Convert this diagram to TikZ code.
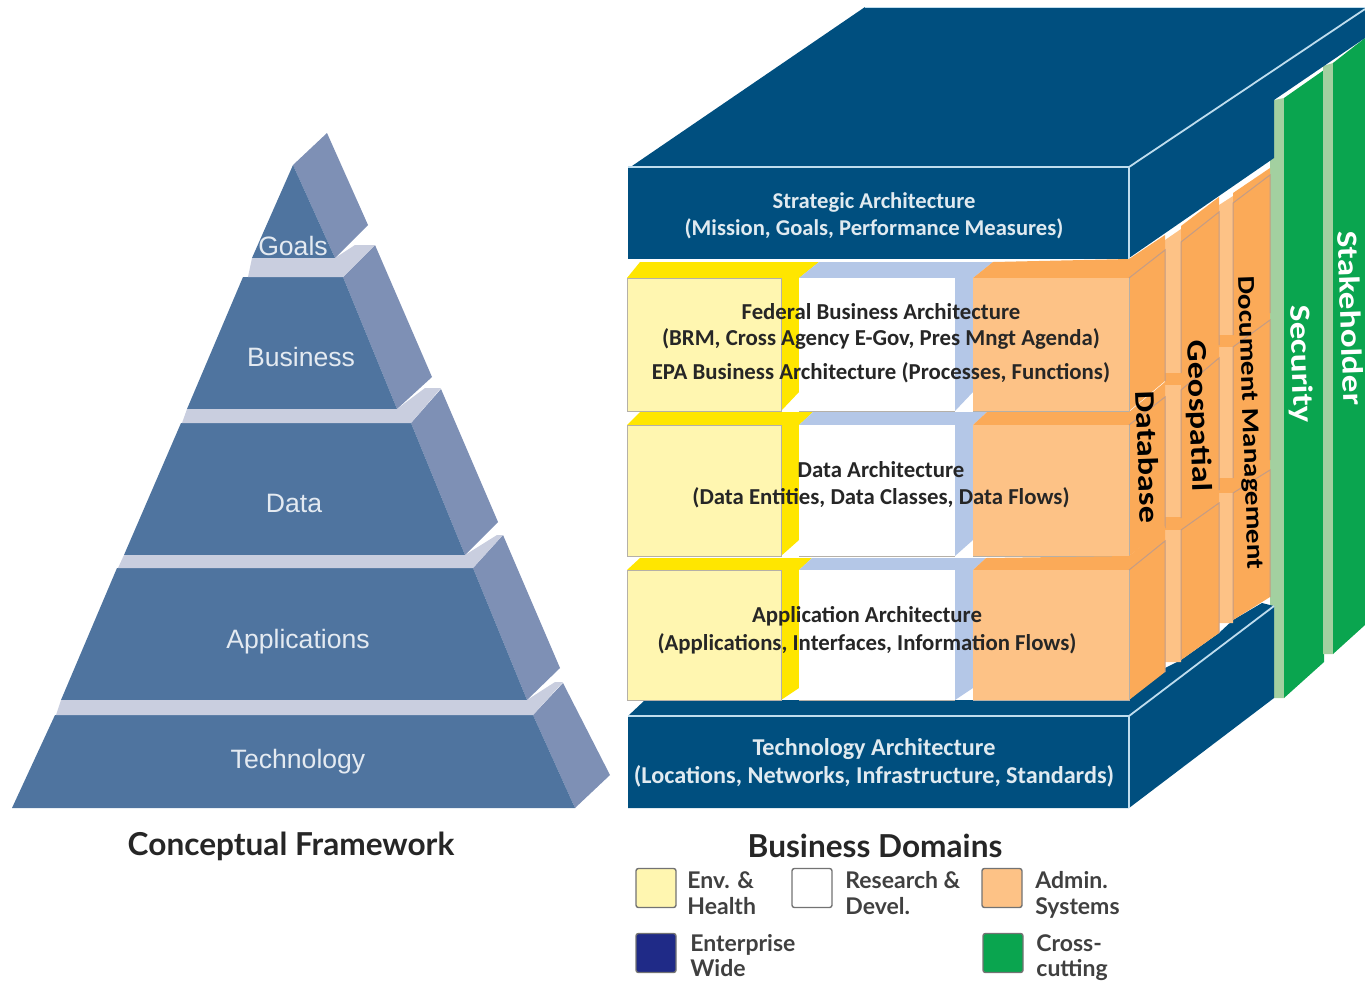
\documentclass[tikz,border=0pt]{standalone}
\usepackage{fontspec}
\setmainfont{Carlito}
\newfontfamily\pyrfont{Liberation Sans}
\newfontfamily\headfont{Lato}
\newfontfamily\longfont[FakeStretch=1.2]{Carlito}
\usepackage{tikz}

\definecolor{pyrfront}{HTML}{4F749F}
\definecolor{pyrside}{HTML}{7E90B5}
\definecolor{pyrshelf}{HTML}{C9CEDF}
\definecolor{navy}{HTML}{004F7F}
\definecolor{edgeline}{HTML}{BFDDEE}
\definecolor{yelfront}{HTML}{FFF6B0}
\definecolor{yelside}{HTML}{FFE600}
\definecolor{lavside}{HTML}{B4C7E7}
\definecolor{orgfront}{HTML}{FDC286}
\definecolor{orgside}{HTML}{FBAA58}
\definecolor{orgline}{HTML}{C39C86}
\definecolor{palegreen}{HTML}{A3D0A0}
\definecolor{crossgreen}{HTML}{0AA54F}
\definecolor{legendnavy}{HTML}{1F2A87}
\definecolor{boxline}{HTML}{B5B0A8}

\begin{document}
\begin{tikzpicture}
  [x=0.5pt,y=-0.5pt,
   pyrlabel/.style={text=white!85!pyrfront,font=\pyrfont\fontsize{13.3}{15}\selectfont},
   whitelabel/.style={text=white!88!navy,font=\bfseries\fontsize{11.3}{13}\selectfont},
   techlabel/.style={text=white!88!navy,font=\bfseries\fontsize{12.1}{14}\selectfont},
   blacklabel/.style={text=black!85,font=\bfseries\fontsize{11.4}{13}\selectfont},
   columnlabel/.style={text=black,rotate=-88,inner sep=0pt,font=\longfont\bfseries\fontsize{14.2}{16}\selectfont},
   greenlabel/.style={text=white,rotate=-88,inner sep=0pt,font=\longfont\bfseries\fontsize{14.6}{16}\selectfont},
   headlabel/.style={text=black!85,font=\headfont\bfseries\fontsize{15.8}{18}\selectfont},
   legendlabel/.style={anchor=base west,inner sep=0pt,text=black!75,font=\headfont\bfseries\fontsize{11.5}{13}\selectfont},
   legendbox/.style={minimum width=20pt,minimum height=19.5pt,inner sep=0pt,rounded corners=1.2pt,draw=black!55,line width=0.7pt},
   boxedge/.style={draw=boxline,line width=0.4pt},
   orgedge/.style={draw=orgline,line width=0.5pt},
   lightedge/.style={draw=edgeline,line width=0.9pt}]

  \useasboundingbox (0,0) rectangle (1365,981);

  % pyramid
  \foreach \ax/\ay/\bx/\by/\cx/\cy/\dx/\dy/\ex/\ey/\fx/\fy in
    {293/165/293/165/335/258/252/258/327/133/368/225,
     243/277/343/277/397/409/187/409/375/245/432/377,
     181/423/411/423/465/555/124/555/441/389/498/522,
     117/568/473/568/527/700/61/700/503/535/560/668,
     55/715/533/715/575/808/12/808/563/683/610/775}
  {
    \fill[pyrside] (\bx,\by) -- (\ex,\ey) -- (\fx,\fy) -- (\cx,\cy) -- cycle;
    \fill[pyrfront] (\ax,\ay) -- (\bx,\by) -- (\cx,\cy) -- (\dx,\dy) -- cycle;
  }
  \foreach \ax/\ay/\bx/\by/\cx/\cy/\dx/\dy/\ex/\ey/\fx/\fy in
    {252/258/248/277/343/277/375/245/355/245/335/258,
     187/409/182/423/411/423/441/388/425/388/397/409,
     124/555/118/568/473/568/503/535/497/535/465/555,
     61/700/56/715/533/715/563/682/555/682/527/700}
    \fill[pyrshelf] (\ax,\ay) -- (\bx,\by) -- (\cx,\cy) -- (\dx,\dy) -- (\ex,\ey) -- (\fx,\fy) -- cycle;

  \node[pyrlabel] (n1) at (293,246) {Goals};
  \node[pyrlabel] (n2) at (301,357) {Business};
  \node[pyrlabel] (n3) at (294,503) {Data};
  \node[pyrlabel] (n4) at (298,642) {Applications};
  \node[pyrlabel] (n5) at (298,762) {Technology};
  \node[headlabel] (n6) at (291,846) {Conceptual Framework};

  % green strips at the back
  \fill[palegreen] (1270,160) -- (1274,100) -- (1284,98) -- (1284,698) -- (1274,698) -- (1270,600) -- cycle;
  \fill[crossgreen] (1284,98) -- (1324,70) -- (1324,662) -- (1284,698) -- cycle;
  \fill[palegreen] (1323,66) -- (1333,63) -- (1333,654) -- (1323,654) -- cycle;
  \fill[crossgreen] (1333,63) -- (1365,38) -- (1365,625) -- (1333,654) -- cycle;

  % top and bottom slabs
  \fill[navy] (632,166) -- (865,7) -- (1365,7) -- (1365,38) -- (1274,100) -- (1274,158) -- (1129,258) -- (1129,167) -- cycle;
  \fill[navy] (628,716) -- (645,700) -- (1129,700) -- (1165,668) -- (1181,660) -- (1219,633) -- (1233,620) -- (1262,603) -- (1274,606) -- (1274,698) -- (1129,808) -- (628,808) -- cycle;
  \fill[navy] (628,167) rectangle (1129,259);
  \draw[lightedge] (628,167) -- (1129,167) -- (1365,9);
  \draw[lightedge] (1129,167) -- (1129,259);
  \draw[lightedge] (628,716) -- (1129,716) -- (1274,606);
  \draw[lightedge] (1129,716) -- (1129,808);
  \draw[edgeline,line width=0.5pt] (865,7) -- (1365,7);

  % column strips on the right
  \fill[orgfront] (1165,240) -- (1181,229) -- (1181,662) -- (1165,662) -- cycle;
  \fill[orgfront] (1219,205) -- (1233,196) -- (1233,623) -- (1219,623) -- cycle;
  \foreach \ya/\yb/\xa/\xb in {373/385/1165/1181,517/530/1165/1181,335/347/1219/1233,478/493/1219/1233}
    \fill[orgside] (\xa,\ya) rectangle (\xb,\yb);
  \foreach \xa/\xb/\ya/\yb/\yc/\yd in {1181/1219/226/197/660/633,1233/1270/193/168/620/597}
    \fill[orgside] (\xa,\ya) -- (\xb,\yb) -- (\xb,\yd) -- (\xa,\yc) -- cycle;
  \foreach \xa/\xb/\ta/\tb/\ba/\bb in
    {1181/1219/242/212/373/345,1181/1219/390/358/518/490,1181/1219/530/503/660/633,
     1233/1270/203/175/335/313,1233/1270/347/320/478/460,1233/1270/493/470/620/597}
    \draw[orgedge] (\xa,\ba) -- (\xa,\ta) -- (\xb,\tb) -- (\xb,\bb);

  % three rows of boxes
  \foreach \ya/\yb/\yc/\yd/\dd/\ye/\yf in {262/278/411/392/20/259/235,412/425/556/540/14/412/382,558/570/700/688/13/556/526}
  {
    \fill[yelside] (627,\yb) -- (640,\ya) -- (799+\dd,\ya) -- (799,\yb) -- cycle;
    \fill[lavside] (799,\yb) -- (799+\dd,\ya) -- (973+\dd,\ya) -- (973,\yb) -- cycle;
    \fill[orgside] (973,\yb) -- (973+\dd,\ya) -- (1129,\ye) -- (1165,\yf) -- (1165,\yf+15) -- (1129,\yb) -- cycle;
    \fill[yelside] (781,\yb) -- (799,\ya) -- (799,\yd) -- (781,\yc) -- cycle;
    \fill[lavside] (955,\yb) -- (973,\ya) -- (973,\yd) -- (955,\yc) -- cycle;
    \fill[orgside] (1129,\yb) -- (1165,\yf+15) -- (1165,\yf+146) -- (1129,\yc) -- cycle;
    \filldraw[fill=yelfront,boxedge] (627,\yb) rectangle (781,\yc);
    \fill[white] (799,\yb) rectangle (955,\yc);
    \draw[boxedge] (799,\yc) -- (955,\yc);
    \fill[orgfront] (973,\yb) rectangle (1129,\yc);
    \draw[boxedge] (973,\yc) -- (1129,\yc) -- (1129,\yb);
    \draw[orgedge] (1129,\yb) -- (1165,\yf+15) -- (1165,\yf+146);
  }

  \node[whitelabel] (n7) at (874,202) {Strategic Architecture};
  \node[whitelabel] (n8) at (874,229) {(Mission, Goals, Performance Measures)};
  \node[blacklabel] (n9) at (881,312) {Federal Business Architecture};
  \node[blacklabel] (n10) at (881,339) {(BRM, Cross Agency E-Gov, Pres Mngt Agenda)};
  \node[blacklabel] (n11) at (881,373) {EPA Business Architecture (Processes, Functions)};
  \node[blacklabel] (n12) at (881,470) {Data Architecture};
  \node[blacklabel] (n13) at (881,498) {(Data Entities, Data Classes, Data Flows)};
  \node[blacklabel] (n14) at (867,616) {Application Architecture};
  \node[blacklabel] (n15) at (867,644) {(Applications, Interfaces, Information Flows)};
  \node[techlabel] (n16) at (874,749) {Technology Architecture};
  \node[techlabel] (n17) at (874,776) {(Locations, Networks, Infrastructure, Standards)};
  \node[columnlabel] (n18) at (1148,457) {Database};
  \node[columnlabel] (n19) at (1198,416) {Geospatial};
  \node[columnlabel,font=\longfont\bfseries\fontsize{12.1}{14}\selectfont] (n20) at (1249,423) {Document Management};
  \node[greenlabel] (n21) at (1300,364) {Security};
  \node[greenlabel] (n22) at (1351,318) {Stakeholder};

  % legend
  \node[headlabel] (n23) at (875,846) {Business Domains};
  \node[legendbox,fill=yelfront] (n24) at (656,888) {};
  \node[legendbox,fill=white] (n25) at (812,888) {};
  \node[legendbox,fill=orgfront] (n26) at (1002,888) {};
  \node[legendbox,fill=legendnavy] (n27) at (656,953) {};
  \node[legendbox,fill=crossgreen] (n28) at (1003,953) {};
  \foreach \x/\y/\name/\txt in {687/888/n29/{Env. \&},687/914/n30/Health,845/888/n31/{Research \&},845/914/n32/Devel.,
    1035/888/n33/Admin.,1035/914/n34/Systems,690/951/n35/Enterprise,690/976/n36/Wide,1036/951/n37/Cross-,1036/976/n38/cutting}
    \node[legendlabel] (\name) at (\x,\y) {\txt};
\end{tikzpicture}
\end{document}
